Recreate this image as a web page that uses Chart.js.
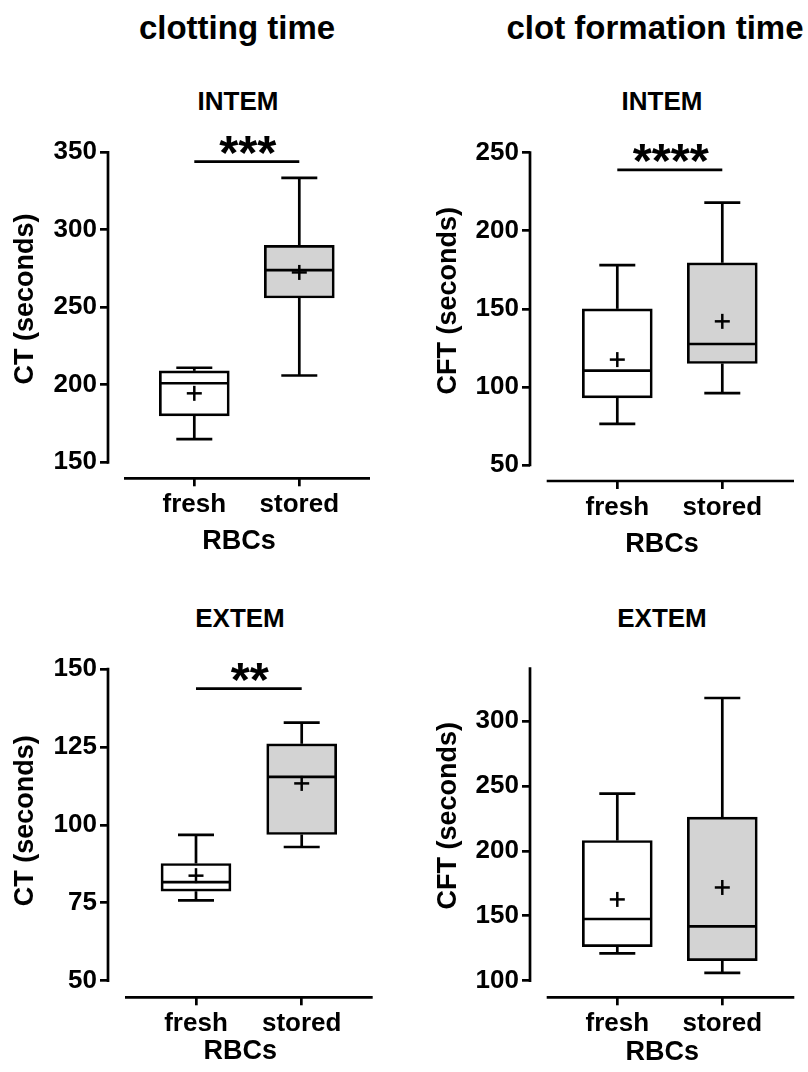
<!DOCTYPE html>
<html><head><meta charset="utf-8">
<script src="https://cdn.jsdelivr.net/npm/chart.js@4.4.1/dist/chart.umd.min.js"></script>
<style>
html,body{margin:0;padding:0;background:#fff;}
body{width:808px;height:1072px;position:relative;overflow:hidden;font-family:"Liberation Sans",Arial,sans-serif;}
canvas{position:absolute;}
.t{position:absolute;transform:translateX(-50%);white-space:nowrap;font-weight:bold;color:#000;line-height:1;}
</style></head><body>
<div class="t" style="left:237px;top:11px;font-size:33px">clotting time</div>
<div class="t" style="left:655px;top:11px;font-size:33px">clot formation time</div>
<div class="t" style="left:238px;top:88px;font-size:26px">INTEM</div>
<div class="t" style="left:662px;top:88px;font-size:26px">INTEM</div>
<div class="t" style="left:240px;top:605px;font-size:26px">EXTEM</div>
<div class="t" style="left:662px;top:605px;font-size:26px">EXTEM</div>
<canvas id="c1" width="404" height="510" style="left:0;top:60px"></canvas>
<canvas id="c2" width="404" height="510" style="left:404px;top:60px"></canvas>
<canvas id="c3" width="404" height="502" style="left:0;top:570px"></canvas>
<canvas id="c4" width="404" height="502" style="left:404px;top:570px"></canvas>
<script>
// ---- data ----
const categories = ['fresh', 'stored'];
const xAxisTitle = 'RBCs';
const yTitles = ['CT (seconds)', 'CFT (seconds)', 'CT (seconds)', 'CFT (seconds)'];
// each box: [min, Q1, median, Q3, max, mean]
const ctIntemFresh   = [165, 180, 201, 209, 211, 194.5];
const ctIntemStored  = [206, 256, 274, 290, 333.5, 272.5];
const cftIntemFresh  = [76.3, 93, 110.5, 150, 178, 117.5];
const cftIntemStored = [96, 115, 127.5, 179.5, 218, 142];
const ctExtemFresh   = [75.8, 78.7, 81.6, 87.6, 96.8, 83.7];
const ctExtemStored  = [92.9, 96.9, 115.4, 126, 132.8, 113.3];
const cftExtemFresh  = [121, 126.2, 147.5, 208, 244, 162.6];
const cftExtemStored = [106, 115.4, 141.8, 226, 317.7, 171.8];
const ctIntemTicks  = [150, 200, 250, 300, 350];
const cftIntemTicks = [50, 100, 150, 200, 250];
const ctExtemTicks  = [50, 75, 100, 125, 150];
const cftExtemTicks = [100, 150, 200, 250, 300];
const sigLevels = [344, 239, 143.7, null];
const sigLabels = ['***', '****', '**', ''];

// ---- layout (page pixels) ----
const layouts = [
  {canvas:[0,60,404,510],  left:108, right:370,   bottom:478.3, xStart:124,   cx:[194.3,299.3], yRef:[[350,152.3],[150,462.3]], titleCY:299,   yTitleX:25.8, xTitleY:542,    axisTop:350},
  {canvas:[404,60,404,510],left:530, right:794,   bottom:481,   xStart:546.7, cx:[617.3,722.3], yRef:[[250,152.7],[50,465]],    titleCY:300.8, yTitleX:449,  xTitleY:545,    axisTop:250},
  {canvas:[0,570,404,502], left:108, right:372.7, bottom:997.3, xStart:125,   cx:[196,301.7],   yRef:[[150,669],[50,980.7]],    titleCY:820.8, yTitleX:25.8, xTitleY:1051.7, axisTop:150},
  {canvas:[404,570,404,502],left:530,right:794.3, bottom:997.3, xStart:546.7, cx:[617.3,722.3], yRef:[[300,721],[100,980.7]],   titleCY:815.8, yTitleX:449,  xTitleY:1052.5, axisTop:340.3}
];
const panels = [
  {fresh:ctIntemFresh, stored:ctIntemStored, ticks:ctIntemTicks},
  {fresh:cftIntemFresh, stored:cftIntemStored, ticks:cftIntemTicks},
  {fresh:ctExtemFresh, stored:ctExtemStored, ticks:ctExtemTicks},
  {fresh:cftExtemFresh, stored:cftExtemStored, ticks:cftExtemTicks}
];

const FONT = '"Liberation Sans", Arial, sans-serif';
const tickFont = {family: FONT, size: 26, weight: 'bold'};
const titleFont = {family: FONT, size: 27, weight: 'bold', lineHeight: 1.2};
const LW = 2.7;

function makePanel(idx) {
  const L = layouts[idx], P = panels[idx];
  const [cl, ct, cw, ch] = L.canvas;
  const [[v1,p1],[v2,p2]] = L.yRef;
  const ppu = (p2 - p1) / (v1 - v2);
  const valAt = p => v2 + (p2 - p) / ppu;
  const scaleTop = 2 * L.titleCY - L.bottom;
  const yMin = valAt(L.bottom), yMax = valAt(scaleTop);
  const xppu = L.cx[1] - L.cx[0];
  const xMin = 1 - (L.cx[0] - L.left) / xppu;
  const xMax = 2 + (L.right - L.cx[1]) / xppu;
  const half = titleFont.size * titleFont.lineHeight / 2;
  const xScaleBottom = L.xTitleY + half;

  const plugin = {
    id: 'boxplot' + idx,
    afterDatasetsDraw(chart) {
      const ctx = chart.ctx, xs = chart.scales.x, ys = chart.scales.y, ca = chart.chartArea;
      const py = v => ys.getPixelForValue(v);
      const line = (a, b, c, d) => { ctx.beginPath(); ctx.moveTo(a, b); ctx.lineTo(c, d); ctx.stroke(); };
      ctx.save();
      ctx.strokeStyle = '#000';
      ctx.lineCap = 'butt';
      // axes
      ctx.lineWidth = LW;
      line(ca.left, py(P.ticks[0]) + LW / 2, ca.left, py(L.axisTop) - LW / 2);
      line(L.xStart - cl, ca.bottom, ca.right, ca.bottom);
      // boxes
      [P.fresh, P.stored].forEach((s, i) => {
        const cx = xs.getPixelForValue(i + 1);
        const [mn, q1, md, q3, mx, mean] = s;
        ctx.lineWidth = LW;
        line(cx, py(q3), cx, py(mx));
        line(cx - 18, py(mx), cx + 18, py(mx));
        line(cx, py(q1), cx, py(mn));
        line(cx - 18, py(mn), cx + 18, py(mn));
        line(cx - 34, py(md), cx + 34, py(md));
        ctx.lineWidth = 2.5;
        line(cx - 7.5, py(mean), cx + 7.5, py(mean));
        line(cx, py(mean) - 7.5, cx, py(mean) + 7.5);
      });
      // significance
      if (sigLevels[idx] !== null) {
        const y = py(sigLevels[idx]);
        const xa = xs.getPixelForValue(1), xb = xs.getPixelForValue(2);
        ctx.lineWidth = LW;
        line(xa, y, xb, y);
        ctx.font = 'bold 49px ' + FONT;
        ctx.fillStyle = '#000';
        ctx.textAlign = 'center';
        ctx.textBaseline = 'alphabetic';
        const m = ctx.measureText(sigLabels[idx]);
        const centerY = y - 17;
        const base = centerY + (m.actualBoundingBoxAscent - m.actualBoundingBoxDescent) / 2;
        ctx.fillText(sigLabels[idx], (xa + xb) / 2 + 1, base);
      }
      ctx.restore();
    }
  };

  new Chart(document.getElementById('c' + (idx + 1)), {
    type: 'bar',
    data: {
      datasets: [{
        data: [
          {x: 1, y: [P.fresh[1], P.fresh[3]]},
          {x: 2, y: [P.stored[1], P.stored[3]]}
        ],
        backgroundColor: ['#ffffff', '#d3d3d3'],
        borderColor: '#000',
        borderWidth: LW,
        borderSkipped: false,
        barThickness: 70
      }]
    },
    options: {
      responsive: false,
      animation: false,
      events: [],
      layout: {padding: {left: 0, right: cl + cw - L.right, top: scaleTop - ct, bottom: ct + ch - xScaleBottom}},
      plugins: {legend: {display: false}, tooltip: {enabled: false}},
      scales: {
        x: {
          type: 'linear', min: xMin, max: xMax, offset: false,
          afterBuildTicks: s => { s.ticks = [{value: 1}, {value: 2}]; },
          afterFit: s => { s.height = xScaleBottom - L.bottom; },
          grid: {drawOnChartArea: false, drawTicks: true, tickLength: 8, color: '#000', lineWidth: LW, offset: false},
          border: {display: false},
          ticks: {callback: v => categories[v - 1], font: tickFont, color: '#000', padding: 3, maxRotation: 0, autoSkip: false},
          title: {display: true, text: xAxisTitle, font: titleFont, color: '#000', padding: 0}
        },
        y: {
          type: 'linear', min: yMin, max: yMax,
          afterBuildTicks: s => { s.ticks = P.ticks.map(v => ({value: v})); },
          afterFit: s => { s.width = L.left - cl; },
          grid: {drawOnChartArea: false, drawTicks: true, tickLength: 8, color: '#000', lineWidth: LW},
          border: {display: false},
          ticks: {font: tickFont, color: '#000', padding: 3, autoSkip: false},
          title: {display: true, text: yTitles[idx], font: titleFont, color: '#000', padding: {top: L.yTitleX - cl - half, bottom: 0}}
        }
      }
    },
    plugins: [plugin]
  });
}
[0, 1, 2, 3].forEach(makePanel);
</script>
</body></html>
